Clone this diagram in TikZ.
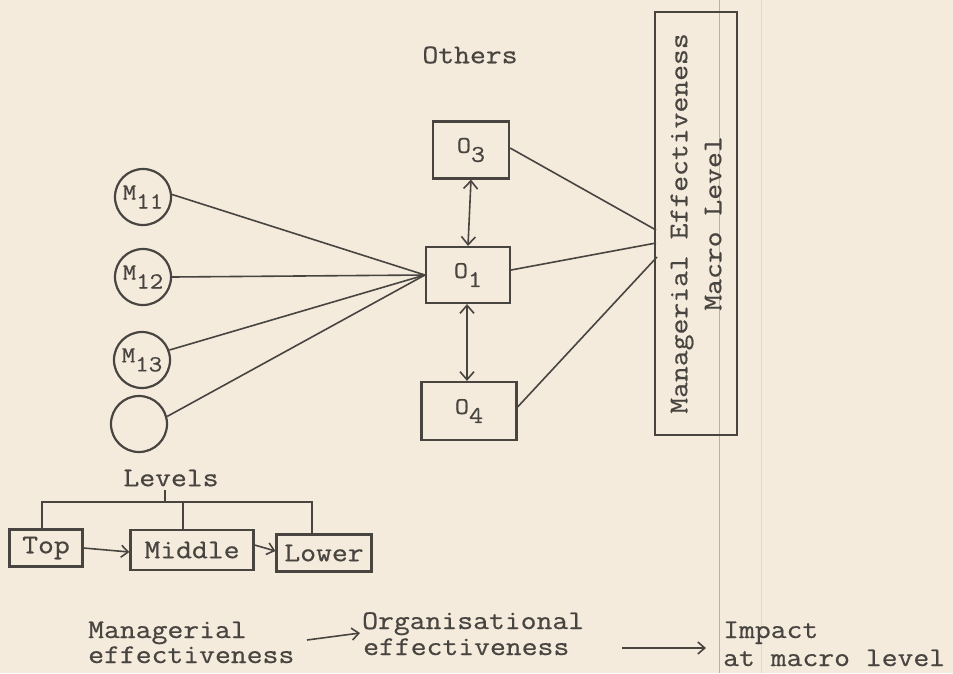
\documentclass[tikz,border=0pt]{standalone}
\usepackage{fontspec}
\usetikzlibrary{arrows.meta}
\newfontfamily\twfam{Latin Modern Mono}[FakeStretch=1.14, FakeBold=0.6]
\definecolor{paper}{RGB}{244,235,221}
\definecolor{inkc}{RGB}{72,68,64}
\definecolor{edgec}{RGB}{185,177,167}
\newcommand\twfont[1]{\fontsize{#1}{#1}\twfam\selectfont}
\begin{document}
\begin{tikzpicture}[x=1pt,y=-1pt,
  conn/.style={draw=inkc, line width=1.6pt},
  boxline/.style={draw=inkc, line width=2.2pt},
  lbl/.style={font=\twfont{27}, text=inkc, inner sep=0pt},
  obox/.style={boxline, inner sep=0pt, font=\twfont{24}, text=inkc},
  lbox/.style={boxline, inner sep=0pt, font=\twfont{27}, text=inkc},
  mcirc/.style={circle, boxline, minimum size=56pt, inner sep=0pt, font=\twfont{23}, text=inkc},
  arr/.style={conn, -{Straight Barb[length=7pt,width=12pt,line width=1.6pt]}},
  dbl/.style={conn, {Straight Barb[length=8pt,width=14pt,line width=1.6pt]}-{Straight Barb[length=8pt,width=14pt,line width=1.6pt]}}
]
\fill[paper] (0,0) rectangle (953,673);
\useasboundingbox (0,0) rectangle (953,673);
% scan page edges
\draw[edgec, line width=1pt] (719,0) -- (719,673);
\draw[edgec!50, line width=0.8pt] (761,0) -- (761,673);

\node[lbl] (others) at (470,55) {Others};

% M circles
\node[mcirc] (m11) at (143,197) {M\raisebox{-9pt}{11}};
\node[mcirc] (m12) at (143,277) {M\raisebox{-9pt}{12}};
\node[mcirc] (m13) at (142,360) {M\raisebox{-9pt}{13}};
\node[mcirc] (m14) at (139,424) {};

% O boxes
\node[obox, minimum width=76pt, minimum height=57pt] (o3) at (471,150) {O\raisebox{-9pt}{3}};
\node[obox, minimum width=84pt, minimum height=56pt] (o1) at (468,275) {O\raisebox{-9pt}{1}};
\node[obox, minimum width=95pt, minimum height=58pt] (o4) at (469,411) {O\raisebox{-9pt}{4}};

% macro box
\node[boxline, rotate=90, minimum width=423pt, minimum height=82pt, align=center,
      inner sep=0pt, font=\fontsize{27}{34}\twfam\selectfont, text=inkc] (macro) at (696,223.5)
      {Managerial Effectiveness\\Macro Level};
\coordinate (ma) at (656,230);
\coordinate (mb) at (656,243);
\coordinate (mc) at (657,257);

% connectors circles -> O1
\draw[conn] (m11.5) -- (o1.west);
\draw[conn] (m12.east) -- (o1.west);
\draw[conn] (m13.20) -- (o1.west);
\draw[conn] (m14.15) -- (o1.west);

% O boxes -> macro
\draw[conn] ([yshift=2pt]o3.east) -- (ma);
\draw[conn] ([yshift=5pt]o1.east) -- (mb);
\draw[conn] ([yshift=4pt]o4.east) -- (mc);

% double arrows
\draw[dbl] (o3.south) -- (o1.north);
\draw[dbl] ([xshift=-1pt]o1.south) -- ([xshift=-2pt]o4.north);

% Levels
\node[lbl] (levels) at (171,478) {Levels};
\node[lbox, minimum width=73pt, minimum height=37pt] (top) at (46,548) {Top};
\node[lbox, minimum width=123pt, minimum height=40pt] (middle) at (192,550) {Middle};
\node[lbox, minimum width=95pt, minimum height=37pt] (lower) at (324,553) {Lower};
\coordinate (bar) at (165,502);
\draw[conn] ([xshift=-4pt]top.north) |- (bar) -| ([xshift=-9pt]middle.north);
\draw[conn] (bar) -| ([xshift=-12pt]lower.north);
\draw[conn] (bar) -- ++(0,-12);
\draw[arr] (top.east) -- ([yshift=-2pt]middle.west);
\draw[arr] ([yshift=5pt]middle.east) -- ([yshift=2pt]lower.west);

% bottom chain
\node[lbl, anchor=base west] (me1) at (88,638) {Managerial};
\node[lbl, anchor=base west] (me2) at (88,663) {effectiveness};
\node[lbl, anchor=base west] (oe1) at (362,629) {Organisational};
\node[lbl, anchor=base west] (oe2) at (363,655) {effectiveness};
\node[lbl, anchor=base west] (im1) at (723,638) {Impact};
\node[lbl, anchor=base west] (im2) at (723,666) {at macro level};
\coordinate (a1s) at (307,640);
\coordinate (a1e) at (360,633);
\coordinate (a2s) at (622,648);
\coordinate (a2e) at (706,648);
\draw[arr] (a1s) -- (a1e);
\draw[arr] (a2s) -- (a2e);
\end{tikzpicture}
\end{document}
